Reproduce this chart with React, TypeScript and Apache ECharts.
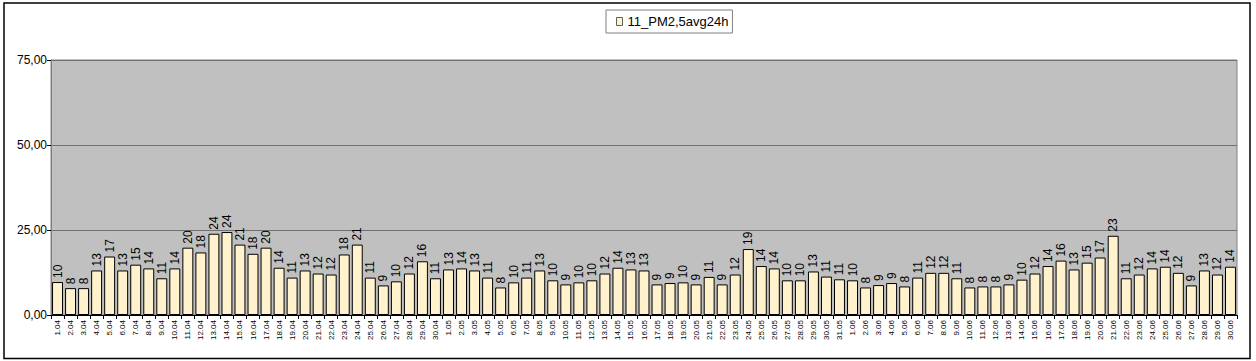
import React, { useEffect, useRef } from "react";
import * as echarts from "echarts";

const dayLabels: string[] = [
  ...Array.from({ length: 30 }, (_, i) => `${i + 1}.04`),
  ...Array.from({ length: 31 }, (_, i) => `${i + 1}.05`),
  ...Array.from({ length: 30 }, (_, i) => `${i + 1}.06`),
];

const aprilValues = [
  9.7, 7.9, 7.9, 13.1, 17.2, 13.1, 14.8, 13.7, 10.8, 13.7,
  19.8, 18.4, 23.9, 24.4, 20.7, 18.0, 19.8, 13.9, 11.0, 13.1,
  12.2, 11.9, 17.8, 20.7, 11.0, 8.7, 9.9, 12.2, 15.8, 10.8,
];
const mayValues = [
  13.4, 13.7, 13.1, 11.0, 8.1, 9.6, 11.0, 13.1, 10.2, 9.0,
  9.6, 10.2, 12.2, 13.9, 13.4, 13.1, 9.0, 9.4, 9.6, 9.0,
  11.2, 9.0, 11.9, 19.4, 14.4, 13.7, 10.2, 10.2, 12.8, 11.3,
  10.5,
];
const juneValues = [
  10.2, 8.1, 8.8, 9.4, 8.4, 11.0, 12.4, 12.4, 10.8, 8.1,
  8.4, 8.4, 9.0, 10.4, 12.2, 14.4, 16.0, 13.4, 15.4, 16.9,
  23.3, 10.8, 11.9, 13.7, 14.2, 12.4, 8.7, 13.1, 11.9, 14.2,
];
const seriesValues = [...aprilValues, ...mayValues, ...juneValues];
const seriesName = "11_PM2,5avg24h";
const yTicks = [0, 25, 50, 75];

const FONT = "'Liberation Sans', Arial, sans-serif";

export default function App() {
  const ref = useRef<HTMLDivElement>(null);
  useEffect(() => {
    if (!ref.current) return;
    const chart = echarts.init(ref.current, undefined, { renderer: "svg" });
    chart.setOption({
      animation: false,
      backgroundColor: "#ffffff",
      textStyle: { fontFamily: FONT },
      graphic: [
        {
          type: "rect",
          shape: { x: 4, y: 3, width: 1246, height: 355.5 },
          style: { fill: "none", stroke: "#000000", lineWidth: 1.5 },
          silent: true,
          z: 100,
        },
      ],
      legend: {
        show: true,
        top: 10,
        left: 606,
        borderColor: "#808080",
        borderWidth: 1,
        padding: [5, 4, 5, 10],
        itemWidth: 6,
        itemHeight: 8,
        itemGap: 4,
        icon: "rect",
        itemStyle: { borderColor: "#606060", borderWidth: 1 },
        textStyle: { fontSize: 13, color: "#000", fontFamily: FONT },
        data: [seriesName],
      },
      grid: {
        left: 51,
        right: 19,
        top: 60,
        bottom: 46,
        show: true,
        backgroundColor: "#C0C0C0",
        borderColor: "#808080",
        borderWidth: 1,
      },
      xAxis: {
        type: "category",
        data: dayLabels,
        boundaryGap: true,
        axisLine: { show: true, lineStyle: { color: "#000", width: 1 } },
        axisTick: { show: true, length: 4, lineStyle: { color: "#000" } },
        axisLabel: {
          interval: 0,
          rotate: 90,
          fontSize: 8,
          color: "#000",
          margin: 5,
          fontFamily: FONT,
        },
      },
      yAxis: {
        type: "value",
        min: yTicks[0],
        max: yTicks[yTicks.length - 1],
        interval: 25,
        axisLine: { show: true, lineStyle: { color: "#808080" } },
        axisTick: { show: true, length: 4, lineStyle: { color: "#000" } },
        axisLabel: {
          fontSize: 12,
          color: "#000",
          margin: 4,
          fontFamily: FONT,
          formatter: (v: number) => v.toFixed(2).replace(".", ","),
        },
        splitLine: { show: true, lineStyle: { color: "#707070", width: 1 } },
      },
      series: [
        {
          name: seriesName,
          type: "bar",
          data: seriesValues,
          barCategoryGap: "16%",
          itemStyle: { color: "#FFF2CC", borderColor: "#000", borderWidth: 1 },
          label: {
            show: true,
            position: "top",
            rotate: 90,
            align: "left",
            verticalAlign: "middle",
            distance: 4,
            fontSize: 12,
            color: "#000",
            fontFamily: FONT,
            formatter: (p: any) => String(Math.round(p.value)),
          },
        },
      ],
    });
    return () => chart.dispose();
  }, []);
  return (
    <div
      ref={ref}
      style={{ position: "absolute", left: 0, top: 0, width: 1256, height: 361 }}
    />
  );
}
